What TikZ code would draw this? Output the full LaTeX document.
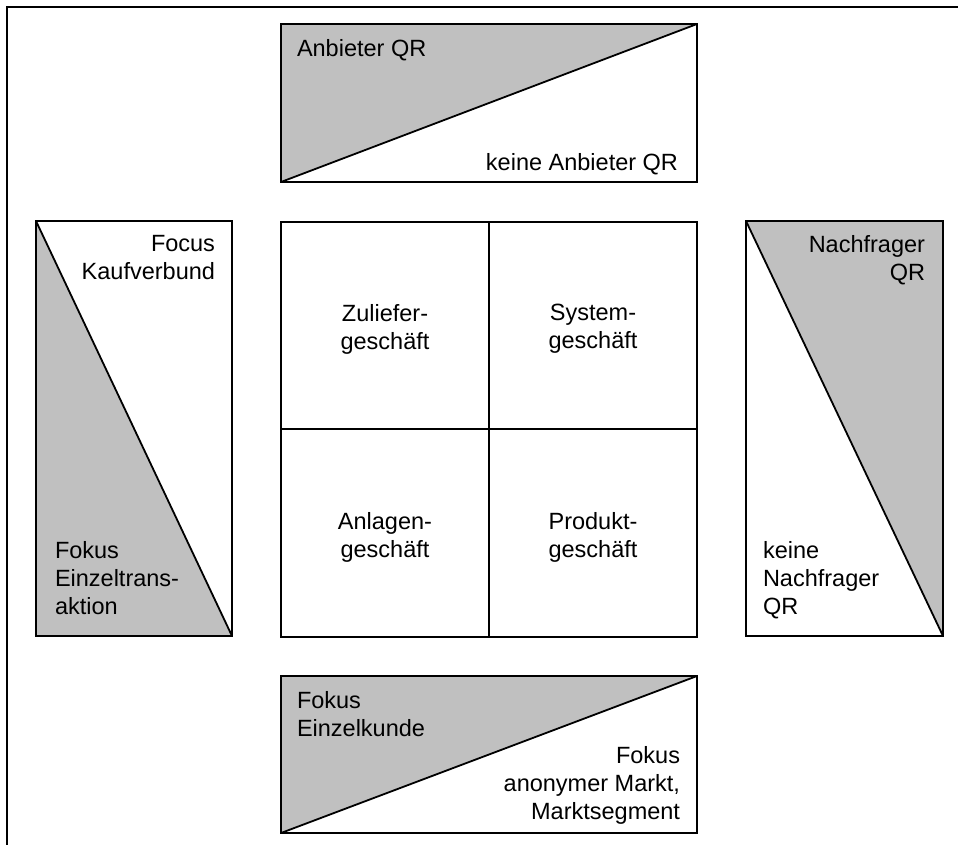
\documentclass[tikz,border=0pt]{standalone}
\usepackage{fontspec}
\setmainfont{Liberation Sans}
\usetikzlibrary{backgrounds}
\definecolor{panelgrey}{HTML}{C0C0C0}
\begin{document}
\begin{tikzpicture}[x=1pt,y=-1pt,
  panel/.style={draw,line width=1.8pt,inner sep=0pt,outer sep=0pt,anchor=north west},
  cell/.style={panel,minimum width=208pt},
  label/.style={inner sep=0pt,outer sep=0pt,font=\fontsize{23.5}{28}\selectfont},
  split/.style={line width=1.8pt},
  frame/.style={line width=2.4pt}]
\useasboundingbox (0,0) rectangle (958,845);

% outer frame: top and left edges only
\coordinate (fa) at (7,845);
\coordinate (fb) at (7,7);
\coordinate (fc) at (958,7);
\draw[frame] (fa) -- (fb) -- (fc);

% four side panels
\node[panel,minimum width=416pt,minimum height=158pt] (top) at (281,24) {};
\node[panel,minimum width=416pt,minimum height=157pt] (bottom) at (281,676) {};
\node[panel,minimum width=196pt,minimum height=415pt] (left) at (36,221) {};
\node[panel,minimum width=197pt,minimum height=415pt] (right) at (746,221) {};

\begin{scope}[on background layer]
  \fill[panelgrey] (top.north west) -- (top.north east) -- (top.south west) -- cycle;
  \fill[panelgrey] (bottom.north west) -- (bottom.north east) -- (bottom.south west) -- cycle;
  \fill[panelgrey] (left.north west) -- (left.south east) -- (left.south west) -- cycle;
  \fill[panelgrey] (right.north west) -- (right.north east) -- (right.south east) -- cycle;
\end{scope}

\draw[split] (top.south west) -- (top.north east);
\draw[split] (bottom.south west) -- (bottom.north east);
\draw[split] (left.north west) -- (left.south east);
\draw[split] (right.north west) -- (right.south east);

% central matrix
\node[cell,minimum height=207pt] (zu) at (281,222) {};
\node[cell,minimum height=207pt] (sy) at (489,222) {};
\node[cell,minimum height=208pt] (an) at (281,429) {};
\node[cell,minimum height=208pt] (pr) at (489,429) {};

% panel texts
\node[label,anchor=base west] (t1) at (297,56.5) {Anbieter QR};
\node[label,anchor=base east] (t2) at (678,171) {keine Anbieter QR};
\node[label,anchor=north east,align=right] (l1) at (215,235) {Focus\\Kaufverbund};
\node[label,anchor=north west,align=left] (l2) at (55,541) {Fokus\\Einzeltrans-\\aktion};
\node[label,anchor=north east,align=right] (r1) at (925,235) {Nachfrager\\QR};
\node[label,anchor=north west,align=left] (r2) at (763,541) {keine\\Nachfrager\\QR};
\node[label,anchor=north west,align=left] (b1) at (297,691) {Fokus\\Einzelkunde};
\node[label,anchor=north east,align=right] (b2) at (680,746) {Fokus\\anonymer Markt,\\Marktsegment};

% matrix texts
\node[label,anchor=north,align=center] (zut) at (385,304) {Zuliefer-\\geschäft};
\node[label,anchor=north,align=center] (syt) at (593,304) {System-\\geschäft};
\node[label,anchor=north,align=center] (ant) at (385,512) {Anlagen-\\geschäft};
\node[label,anchor=north,align=center] (prt) at (593,512) {Produkt-\\geschäft};
\end{tikzpicture}
\end{document}
